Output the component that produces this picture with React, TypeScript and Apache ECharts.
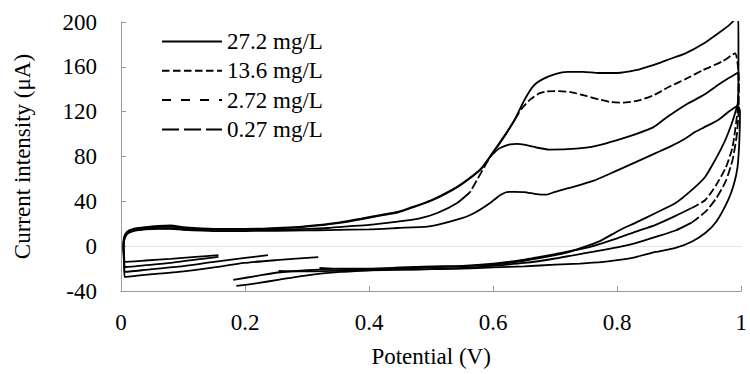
import React, { useEffect, useRef } from "react";
import * as echarts from "echarts";

type Pt = [number, number];
type Section = { dash: number[] | null; pts: Pt[] };

const NAMES = ["27.2 mg/L", "13.6 mg/L", "2.72 mg/L", "0.27 mg/L"];
const LEGEND_DASH: (number[] | null)[] = [null, [7.5, 3.5], [9, 10], [17, 5]];

const X_MIN = 0;
const X_MAX = 1;
const X_STEP = 0.2;
const Y_MIN = -40;
const Y_MAX = 200;
const Y_STEP = 40;

const X_NAME = "Potential (V)";
const Y_NAME = "Current intensity (μA)";

const CURVE_27_2: Section[] = [
  {
    dash: null,
    pts: [
      [0.186, -35.5], [0.22, -33], [0.253, -30], [0.3, -26], [0.354, -23], [0.4, -21.5], [0.45, -20],
      [0.5, -19], [0.55, -18], [0.6, -16.5], [0.65, -13], [0.7, -8], [0.723, -5], [0.77, 4], [0.803, 14],
      [0.83, 21], [0.862, 29.6], [0.894, 38.5], [0.92, 50], [0.942, 62], [0.96, 79], [0.972, 92],
      [0.979, 101], [0.988, 115], [0.995, 130], [0.9955, 165], [0.995, 215],
      [0.99, 203], [0.98, 197], [0.963, 190], [0.94, 181], [0.91, 172], [0.88, 166], [0.858, 161.6],
      [0.83, 157], [0.8, 154.5], [0.77, 154.5], [0.745, 155.5], [0.72, 155.5], [0.7, 153.5], [0.68, 149],
      [0.665, 143], [0.65, 130], [0.635, 113], [0.62, 100], [0.6, 84], [0.58, 69], [0.55, 56],
      [0.526, 48], [0.5, 41], [0.47, 35], [0.446, 30.5], [0.42, 28], [0.387, 24.5], [0.35, 21],
      [0.32, 19], [0.28, 17], [0.2, 15.5], [0.15, 15.5], [0.1, 17], [0.08, 18.5], [0.06, 18],
      [0.04, 17], [0.02, 15.5], [0.01, 13], [0.005, 8], [0.004, 0], [0.005, -8], [0.006, -14],
      [0.04, -12.8], [0.08, -11.3], [0.12, -9.6], [0.157, -8],
    ],
  },
];

const CURVE_13_6: Section[] = [
  {
    dash: null,
    pts: [
      [0.181, -30], [0.22, -26.5], [0.253, -23.5], [0.3, -21.5], [0.354, -20], [0.4, -20], [0.45, -19],
      [0.5, -18], [0.55, -17.5], [0.6, -15.5], [0.65, -12], [0.7, -7], [0.75, -1.6], [0.8, 7],
      [0.83, 13], [0.862, 19], [0.894, 27], [0.92, 34],
    ],
  },
  {
    dash: [8, 3],
    pts: [
      [0.92, 34], [0.942, 41.2], [0.96, 55], [0.975, 70], [0.986, 88.5], [0.994, 121], [0.996, 150],
      [0.99, 172], [0.97, 165], [0.938, 157], [0.91, 149], [0.883, 142], [0.86, 135], [0.835, 130],
      [0.81, 128], [0.79, 128.5], [0.77, 131], [0.75, 134], [0.725, 137.5], [0.7, 138.4], [0.685, 138],
      [0.675, 136.5], [0.66, 131], [0.645, 122], [0.635, 113],
    ],
  },
  {
    dash: null,
    pts: [
      [0.635, 113], [0.62, 99.5], [0.6, 83.5], [0.58, 68.5], [0.55, 55.5], [0.526, 47.5], [0.5, 40.5],
      [0.47, 34.5], [0.446, 30], [0.42, 27.5], [0.387, 24], [0.35, 20.5], [0.32, 18.5], [0.28, 16.5],
      [0.2, 15], [0.15, 15], [0.1, 16], [0.08, 17.5], [0.06, 17], [0.04, 16.5], [0.02, 15], [0.01, 12.5],
      [0.005, 7], [0.004, -1], [0.005, -10], [0.006, -18.6], [0.04, -17], [0.08, -15], [0.12, -12],
      [0.157, -9.6],
    ],
  },
];

const CURVE_2_72: Section[] = [
  {
    dash: null,
    pts: [
      [0.254, -22], [0.3, -22.5], [0.354, -22], [0.4, -21.5], [0.45, -21], [0.5, -20.5], [0.55, -19.5],
      [0.6, -17.5], [0.65, -15], [0.7, -11], [0.75, -6], [0.8, -1], [0.83, 2.8], [0.862, 8.2],
      [0.894, 14], [0.92, 21],
    ],
  },
  {
    dash: [9, 3],
    pts: [
      [0.92, 21], [0.942, 30.5], [0.96, 43], [0.975, 58], [0.986, 77], [0.993, 100], [0.996, 125],
      [0.996, 145], [0.995, 155],
    ],
  },
  {
    dash: null,
    pts: [
      [0.995, 155], [0.98, 150], [0.963, 144], [0.94, 135], [0.91, 126], [0.88, 115], [0.858, 106],
      [0.83, 100], [0.8, 94.7], [0.766, 89.5], [0.75, 88], [0.72, 86.5], [0.69, 86.2], [0.67, 88],
      [0.65, 90.5], [0.638, 91.2], [0.627, 90.8], [0.611, 87.6], [0.605, 85],
    ],
  },
  {
    dash: [9, 3],
    pts: [[0.605, 85], [0.595, 79.5], [0.58, 65], [0.563, 48.3]],
  },
  {
    dash: null,
    pts: [
      [0.563, 48.3], [0.542, 38.5], [0.51, 29.6], [0.48, 24.5], [0.442, 21.6], [0.4, 19], [0.36, 17.5],
      [0.334, 16.2], [0.3, 15.5], [0.2, 14.5], [0.15, 14.5], [0.1, 15], [0.08, 16], [0.06, 16],
      [0.04, 15.5], [0.02, 14], [0.01, 11.5], [0.005, 6], [0.004, -2], [0.005, -12], [0.006, -23],
      [0.05, -20.5], [0.093, -18.3], [0.15, -14], [0.2, -10.5], [0.237, -8],
    ],
  },
];

const CURVE_0_27: Section[] = [
  {
    dash: null,
    pts: [
      [0.32, -19.5], [0.36, -20.5], [0.4, -21], [0.45, -21], [0.5, -20.5], [0.55, -20], [0.6, -19],
      [0.65, -18], [0.7, -16.5], [0.74, -15.5], [0.778, -14], [0.8, -12.5], [0.83, -9.7], [0.862, -5.2],
      [0.894, -1.6], [0.92, 4], [0.942, 11.7], [0.96, 22], [0.979, 41.2], [0.988, 55], [0.994, 70.6],
      [0.997, 95], [0.998, 120], [0.995, 125], [0.99, 124],
      [0.979, 119.7], [0.963, 112.6], [0.94, 106], [0.926, 102], [0.91, 96], [0.886, 89], [0.862, 83],
      [0.83, 75], [0.794, 66], [0.76, 58], [0.723, 52], [0.7, 48.5], [0.686, 46], [0.67, 46.5],
      [0.65, 48.3], [0.635, 48.5], [0.622, 48.3], [0.61, 45], [0.595, 38.5], [0.58, 33], [0.563, 27.8],
      [0.547, 24.5], [0.51, 18.9], [0.494, 17.5], [0.446, 16.2], [0.4, 15], [0.334, 14.4], [0.3, 14],
      [0.2, 13.5], [0.15, 13.5], [0.1, 14.5], [0.08, 15.5], [0.06, 15.5], [0.04, 15], [0.02, 13.5],
      [0.01, 11], [0.005, 5], [0.004, -4], [0.005, -16], [0.006, -27.5],
      [0.05, -25], [0.093, -23], [0.15, -19], [0.198, -15], [0.25, -12.5], [0.318, -9.7],
    ],
  },
];

const CURVES: Section[][] = [CURVE_27_2, CURVE_13_6, CURVE_2_72, CURVE_0_27];

const FONT = "'Liberation Serif', 'Times New Roman', serif";
const FS = 23;

export default function App() {
  const ref = useRef<HTMLDivElement>(null);

  useEffect(() => {
    if (!ref.current) return;
    const chart = echarts.init(ref.current, undefined, { renderer: "svg" });

    const series: any[] = [];
    CURVES.forEach((sections, i) => {
      sections.forEach((sec) => {
        series.push({
          type: "line",
          name: NAMES[i],
          data: sec.pts,
          symbol: "none",
          smooth: 0.2,
          clip: true,
          silent: true,
          lineStyle: { color: "#000", width: 1.8, type: sec.dash ? sec.dash : "solid" },
          itemStyle: { color: "#000" },
        });
      });
    });

    chart.setOption({
      animation: false,
      backgroundColor: "#fff",
      grid: { left: 121, right: 4, top: 22, bottom: 83, containLabel: false },
      legend: {
        orient: "vertical",
        left: 161,
        top: 30,
        padding: 0,
        itemWidth: 60,
        itemHeight: 10,
        itemGap: 6.3,
        selectedMode: false,
        textStyle: { fontFamily: FONT, fontSize: FS, color: "#000" },
        data: NAMES.map((n, i) => ({
          name: n,
          itemStyle: { opacity: 0 },
          lineStyle: { type: LEGEND_DASH[i] ? LEGEND_DASH[i] : "solid", width: 2, color: "#000" },
        })),
      },
      xAxis: [
        {
          type: "value",
          min: X_MIN,
          max: X_MAX,
          interval: X_STEP,
          name: X_NAME,
          nameLocation: "middle",
          nameGap: 54,
          nameTextStyle: { fontFamily: FONT, fontSize: FS, color: "#000" },
          axisLine: { show: true, onZero: false, lineStyle: { color: "#9a9a9a", width: 1 } },
          axisTick: { show: true, inside: true, length: 5, lineStyle: { color: "#9a9a9a" } },
          axisLabel: { fontFamily: FONT, fontSize: FS, color: "#000", margin: 20 },
          splitLine: { show: false },
        },
        {
          type: "value",
          position: "top",
          min: X_MIN,
          max: X_MAX,
          axisLine: { show: true, lineStyle: { color: "#e4e4e4", width: 1 } },
          axisTick: { show: false },
          axisLabel: { show: false },
          splitLine: { show: false },
        },
      ],
      yAxis: {
        type: "value",
        min: Y_MIN,
        max: Y_MAX,
        interval: Y_STEP,
        name: Y_NAME,
        nameLocation: "middle",
        nameGap: 87,
        nameTextStyle: { fontFamily: FONT, fontSize: FS, color: "#000" },
        axisLine: { show: true, onZero: false, lineStyle: { color: "#9a9a9a", width: 1 } },
        axisTick: { show: true, inside: true, length: 5, lineStyle: { color: "#9a9a9a" } },
        axisLabel: { fontFamily: FONT, fontSize: FS, color: "#000", margin: 24 },
        splitLine: { show: false },
      },
      series,
    });

    return () => chart.dispose();
  }, []);

  return (
    <div
      ref={ref}
      style={{ position: "fixed", left: 0, top: 0, width: 750, height: 374, background: "#fff" }}
    />
  );
}
